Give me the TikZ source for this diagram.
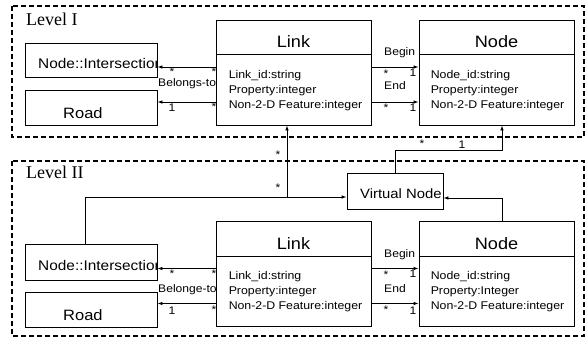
\documentclass[tikz,border=0pt]{standalone}
\usepackage{fontspec}
\setmainfont{Liberation Serif}
\newfontfamily\boxfont[FakeStretch=1.1]{Liberation Sans}
\usetikzlibrary{positioning,arrows.meta}

\begin{document}
\begin{tikzpicture}[x=1pt,y=-1pt,
  levelframe/.style={draw,line width=1.1pt,dash pattern=on 5pt off 3pt},
  classbox/.style={draw,line width=0.9pt,inner sep=0pt,minimum width=155pt,minimum height=105pt},
  smallbox/.style={draw,line width=0.9pt,inner sep=0pt,minimum width=132pt},
  classtitle/.style={font=\boxfont\fontsize{16.5}{18}\selectfont,inner sep=0pt,anchor=base},
  attrs/.style={font=\boxfont\fontsize{11.2}{15}\selectfont,inner sep=0pt,anchor=base west,align=left},
  boxtext/.style={font=\boxfont\fontsize{14}{16}\selectfont,inner sep=0pt,anchor=base west},
  rolelabel/.style={font=\boxfont\fontsize{11}{12}\selectfont,inner sep=0pt,anchor=base west},
  mult/.style={font=\boxfont\fontsize{11}{11}\selectfont,inner sep=0pt},
  levellabel/.style={font=\fontsize{18}{20}\selectfont,inner sep=0pt,anchor=base west},
  assoc/.style={line width=0.9pt,-{Latex[length=5pt,width=3.6pt]}}]

\useasboundingbox (0,0) rectangle (588,340);

% Level I
\draw[levelframe] (12,6) rectangle (584,137);
\node[levellabel] (lev1) at (26,25) {Level I};

\node[smallbox,minimum height=34pt] (int1) at (91,60) {};
\begin{scope}
\clip (int1.south west) rectangle (int1.north east);
\node[boxtext] (int1txt) at (38,68) {Node::Intersection};
\end{scope}
\node[smallbox,minimum height=35pt] (road1) at (91,107.5) {};
\node[boxtext,font=\boxfont\fontsize{15}{16}\selectfont] (road1txt) at (63,118) {Road};

\node[classbox] (link1) at (293.5,72.5) {};
\draw[line width=0.9pt] ([yshift=-34.5pt]link1.north west) -- ([yshift=-34.5pt]link1.north east);
\node[classtitle] (link1title) at ([yshift=-28pt]link1.north) {Link};
\node[attrs] (link1attr) at ([xshift=13pt,yshift=-89pt]link1.north west)
  {Link\_id:string\\Property:integer\\Non-2-D Feature:integer};

\node[classbox] (node1) at (496.5,72.5) {};
\draw[line width=0.9pt] ([yshift=-34.5pt]node1.north west) -- ([yshift=-34.5pt]node1.north east);
\node[classtitle] (node1title) at ([yshift=-28pt]node1.north) {Node};
\node[attrs] (node1attr) at ([xshift=12pt,yshift=-89pt]node1.north west)
  {Node\_id:string\\Property:integer\\Non-2-D Feature:integer};

\draw[assoc] ([yshift=5.5pt]link1.west) -- ([yshift=5.5pt]link1.west -| int1.east);
\draw[assoc] ([yshift=-29.5pt]link1.west) -- ([yshift=-29.5pt]link1.west -| road1.east);
\draw[assoc] ([yshift=5.5pt]link1.east) -- ([yshift=5.5pt]link1.east -| node1.west);
\draw[assoc] ([yshift=-29.5pt]link1.east) -- ([yshift=-29.5pt]link1.east -| node1.west);

\node[rolelabel] (belong1) at (158,86) {Belongs-to};
\node[rolelabel] (begin1) at (384,55) {Begin};
\node[rolelabel] (end1) at (384,89) {End};
\node[mult] (m1a) at (172,72) {*};
\node[mult] (m1b) at (214,71.5) {*};
\node[mult] (m1c) at (172,108) {1};
\node[mult] (m1d) at (214,107) {*};
\node[mult] (m1e) at (386,74) {*};
\node[mult] (m1f) at (413,73) {1};
\node[mult] (m1g) at (386,108) {*};
\node[mult] (m1h) at (413,108) {1};

% Level II
\draw[levelframe] (12,161) rectangle (584,336);
\node[levellabel] (lev2) at (26,178) {Level II};

\node[draw,line width=0.9pt,inner sep=0pt,minimum width=96pt,minimum height=36pt] (vnode) at (395,191) {};
\node[boxtext,font=\boxfont\fontsize{13.5}{15}\selectfont] (vnodetxt) at (360,198) {Virtual Node};

\node[smallbox,minimum height=36pt] (int2) at (91,262) {};
\begin{scope}
\clip (int2.south west) rectangle (int2.north east);
\node[boxtext] (int2txt) at (38,270) {Node::Intersection};
\end{scope}
\node[smallbox,minimum height=35pt] (road2) at (91,309.5) {};
\node[boxtext,font=\boxfont\fontsize{15}{16}\selectfont] (road2txt) at (63,320) {Road};

\node[classbox] (link2) at (293.5,274) {};
\draw[line width=0.9pt] ([yshift=-35.5pt]link2.north west) -- ([yshift=-35.5pt]link2.north east);
\node[classtitle] (link2title) at ([yshift=-28.5pt]link2.north) {Link};
\node[attrs] (link2attr) at ([xshift=13pt,yshift=-88pt]link2.north west)
  {Link\_id:string\\Property:integer\\Non-2-D Feature:integer};

\node[classbox] (node2) at (496.5,274) {};
\draw[line width=0.9pt] ([yshift=-35.5pt]node2.north west) -- ([yshift=-35.5pt]node2.north east);
\node[classtitle] (node2title) at ([yshift=-28.5pt]node2.north) {Node};
\node[attrs] (node2attr) at ([xshift=12pt,yshift=-88pt]node2.north west)
  {Node\_id:string\\Property:Integer\\Non-2-D Feature:integer};

\draw[assoc] ([yshift=5.5pt]link2.west) -- ([yshift=5.5pt]link2.west -| int2.east);
\draw[assoc] ([yshift=-29.5pt]link2.west) -- ([yshift=-29.5pt]link2.west -| road2.east);
\draw[assoc] ([yshift=5.5pt]link2.east) -- ([yshift=5.5pt]link2.east -| node2.west);
\draw[assoc] ([yshift=-29.5pt]link2.east) -- ([yshift=-29.5pt]link2.east -| node2.west);

\node[rolelabel] (belong2) at (158,292) {Belonge-to};
\node[rolelabel] (begin2) at (384,257) {Begin};
\node[rolelabel] (end2) at (384,292) {End};
\node[mult] (m2a) at (172,274) {*};
\node[mult] (m2b) at (214,273.5) {*};
\node[mult] (m2c) at (172,311) {1};
\node[mult] (m2d) at (214,310) {*};
\node[mult] (m2e) at (386,275) {*};
\node[mult] (m2f) at (413,274) {1};
\node[mult] (m2g) at (386,310) {*};
\node[mult] (m2h) at (413,311) {1};

% between the levels
\coordinate (jn) at (287,197);
\coordinate (up1) at (502,150);
\draw[assoc] ([xshift=-6pt]int2.north) |- ([yshift=-6pt]vnode.west);
\draw[assoc] (jn) -- (jn |- link1.south);
\draw[assoc] (vnode.north) |- (up1) -- (up1 |- node1.south);
\draw[assoc] ([xshift=5.5pt]node2.north) |- ([yshift=-7pt]vnode.east);

\node[mult] (m3a) at (278,155) {*};
\node[mult] (m3b) at (278,188) {*};
\node[mult] (m3c) at (422,144) {*};
\node[mult] (m3d) at (462,145) {1};

\end{tikzpicture}
\end{document}
